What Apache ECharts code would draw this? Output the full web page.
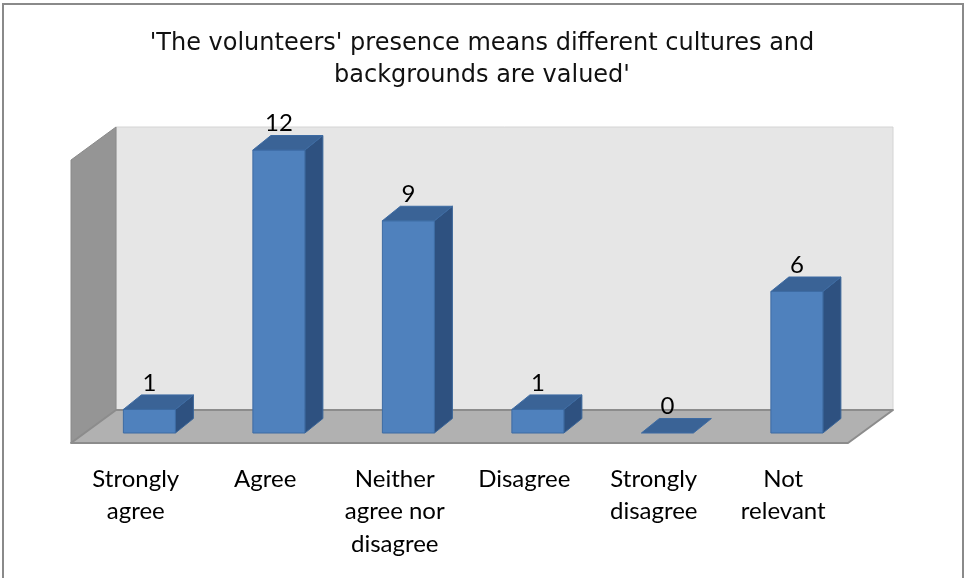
<!DOCTYPE html>
<html>
<head>
<meta charset="utf-8">
<script src="https://cdn.jsdelivr.net/npm/echarts@6/dist/echarts.min.js"></script>
<style>
  html, body { margin: 0; padding: 0; background: #ffffff; }
  #chart { width: 964px; height: 578px; }
</style>
</head>
<body>
<div id="chart"></div>
<script>
// Survey responses
const titleText = "'The volunteers' presence means different cultures and\nbackgrounds are valued'";
const categories = ['Strongly\nagree', 'Agree', 'Neither\nagree nor\ndisagree', 'Disagree', 'Strongly\ndisagree', 'Not\nrelevant'];
const responses = [1, 12, 9, 1, 0, 6];
const axisMax = 12;

// Oblique projection of the box: full floor depth and the slice the bars occupy
const DEPTH = [45, -33];
const BAR_FRONT = 10 / 33;
const BAR_DEPTH = [18, -14.5];
const BAR_WIDTH = 52;

const chart = echarts.init(document.getElementById('chart'), null, { renderer: 'canvas' });

function shift(p, d, t) { return [p[0] + d[0] * t, p[1] + d[1] * t]; }

// Back wall, side wall and floor
function renderBox(params, api) {
  const bw = api.size([1, 0])[0];
  const first = api.coord([0, 0]);
  const last = api.coord([categories.length - 1, 0]);
  const top = api.coord([0, axisMax]);
  const h = first[1] - top[1];
  const fl = [first[0] - bw / 2, first[1]];
  const fr = [last[0] + bw / 2, last[1]];
  const bl = shift(fl, DEPTH, 1);
  const br = shift(fr, DEPTH, 1);
  return {
    type: 'group',
    children: [
      { type: 'polygon', shape: { points: [bl, br, [br[0], br[1] - h], [bl[0], bl[1] - h]] },
        style: { fill: '#e6e6e6', stroke: '#d4d4d4', lineWidth: 1 } },
      { type: 'polygon', shape: { points: [fl, bl, [bl[0], bl[1] - h], [fl[0], fl[1] - h]] },
        style: { fill: '#959595', stroke: '#8a8a8a', lineWidth: 1 } },
      { type: 'polygon', shape: { points: [fl, fr, br, bl] },
        style: { fill: '#b1b1b1', stroke: '#8c8c8c', lineWidth: 2, lineJoin: 'round' } }
    ]
  };
}

// One 3D column per category
function renderBar(params, api) {
  const i = api.value(0);
  const v = api.value(1);
  const base = shift(api.coord([i, 0]), DEPTH, BAR_FRONT);
  const topY = api.coord([i, v])[1] + DEPTH[1] * BAR_FRONT;
  const x0 = base[0] - BAR_WIDTH / 2;
  const x1 = base[0] + BAR_WIDTH / 2;
  const y0 = base[1];
  const y1 = topY;
  const dx = BAR_DEPTH[0], dy = BAR_DEPTH[1];
  const children = [];
  if (v > 0) {
    children.push({ type: 'polygon', shape: { points: [[x1, y0], [x1 + dx, y0 + dy], [x1 + dx, y1 + dy], [x1, y1]] },
      style: { fill: '#2e5180', stroke: '#3a6598', lineWidth: 1 } });
    children.push({ type: 'rect', shape: { x: x0, y: y1, width: BAR_WIDTH, height: y0 - y1 },
      style: { fill: '#4f81bd', stroke: '#3d6ba3', lineWidth: 1 } });
  }
  children.push({ type: 'polygon', shape: { points: [[x0, y1], [x1, y1], [x1 + dx, y1 + dy], [x0 + dx, y1 + dy]] },
    style: { fill: '#3a6396', stroke: '#3d6ba3', lineWidth: 1 } });
  children.push({ type: 'text', style: {
    x: base[0], y: y1 + dy, text: String(v),
    fontFamily: 'Lato', fontSize: 24, fill: '#000000',
    textAlign: 'center', textVerticalAlign: 'bottom'
  } });
  return { type: 'group', children: children };
}

chart.setOption({
  animation: false,
  backgroundColor: '#ffffff',
  title: {
    text: titleText,
    left: 'center',
    top: 23,
    textStyle: { fontFamily: 'DejaVu Sans', fontWeight: 'normal', fontSize: 24, lineHeight: 32, color: '#111111' }
  },
  graphic: [{
    type: 'rect', silent: true, z: 100,
    shape: { x: 3, y: 4, width: 960, height: 590 },
    style: { fill: 'none', stroke: '#8a8a8a', lineWidth: 2 }
  }],
  grid: { left: 71, right: 116, top: 160, bottom: 135 },
  xAxis: {
    type: 'category',
    data: categories,
    axisLine: { show: false },
    axisTick: { show: false },
    axisLabel: { interval: 0, margin: 20, fontFamily: 'Lato', fontSize: 24, lineHeight: 32.5, color: '#000000' }
  },
  yAxis: {
    type: 'value', min: 0, max: axisMax, interval: 2,
    show: false
  },
  series: [
    { type: 'custom', renderItem: renderBox, data: [[0, 0]], silent: true, z: 1 },
    { type: 'custom', renderItem: renderBar, data: responses.map((v, i) => [i, v]), z: 2 }
  ]
});
</script>
</body>
</html>
